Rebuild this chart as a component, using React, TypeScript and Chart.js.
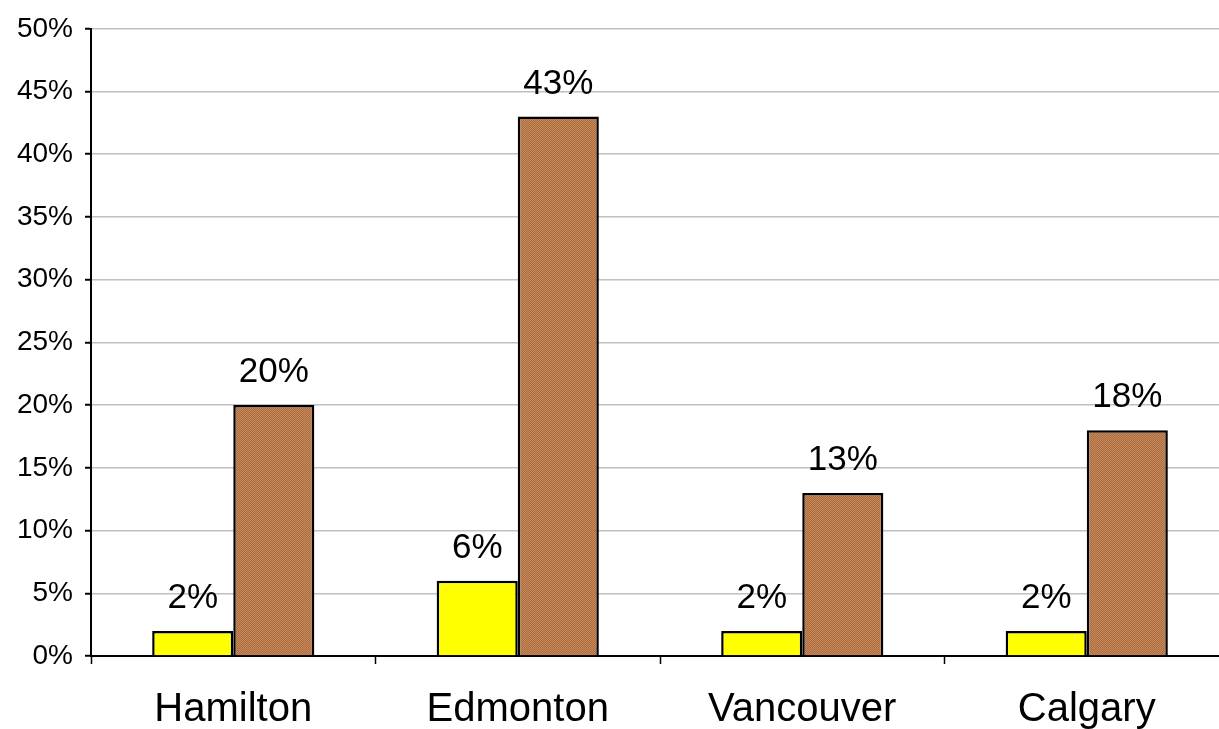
import React, { useEffect, useRef } from "react";
import { Chart, registerables } from "chart.js";

Chart.register(...registerables);

const categories = ["Hamilton", "Edmonton", "Vancouver", "Calgary"];
const seriesYellow = [2, 6, 2, 2];
const seriesBrown = [20, 43, 13, 18];
const yTickMax = 50;
const yTickStep = 5;

const FONT = "'Liberation Sans', Arial, sans-serif";

function makePattern(): CanvasPattern | string {
  const c = document.createElement("canvas");
  c.width = 4;
  c.height = 4;
  const ctx = c.getContext("2d");
  if (!ctx) return "#C07A40";
  ctx.fillStyle = "#CE8A44";
  ctx.fillRect(0, 0, 4, 4);
  ctx.fillStyle = "#A46C54";
  for (let i = 0; i < 4; i++) {
    ctx.fillRect(i, 3 - i, 1, 1);
    ctx.fillRect((i + 2) % 4, 3 - i, 1, 1);
  }
  const p = ctx.createPattern(c, "repeat");
  return p || "#C07A40";
}

const valueLabels = {
  id: "valueLabels",
  afterDatasetsDraw(chart: any) {
    const ctx = chart.ctx;
    ctx.save();
    ctx.font = `35px ${FONT}`;
    ctx.fillStyle = "#000";
    ctx.textAlign = "center";
    ctx.textBaseline = "alphabetic";
    chart.data.datasets.forEach((ds: any, di: number) => {
      const meta = chart.getDatasetMeta(di);
      meta.data.forEach((el: any, i: number) => {
        ctx.fillText(`${ds.data[i]}%`, el.x, el.y - 23);
      });
    });
    ctx.restore();
  },
};

export default function App() {
  const ref = useRef<HTMLCanvasElement>(null);
  useEffect(() => {
    if (!ref.current) return;
    const chart = new Chart(ref.current, {
      type: "bar",
      data: {
        labels: categories,
        datasets: [
          {
            data: seriesYellow,
            backgroundColor: "#FFFF00",
            borderColor: "#000",
            borderWidth: 2.5,
            categoryPercentage: 0.57,
            barPercentage: 1,
          },
          {
            data: seriesBrown,
            backgroundColor: makePattern() as any,
            borderColor: "#000",
            borderWidth: 2.5,
            categoryPercentage: 0.57,
            barPercentage: 1,
          },
        ],
      },
      options: {
        responsive: false,
        animation: false,
        layout: { padding: { top: 26, right: 11, left: 0, bottom: 0 } },
        plugins: { legend: { display: false }, tooltip: { enabled: false } },
        scales: {
          x: {
            grid: {
              drawOnChartArea: false,
              tickLength: 8,
              tickColor: "#000",
              tickWidth: 1.5,
              offset: true,
            },
            border: { color: "#000", width: 2 },
            ticks: {
              font: { family: FONT, size: 40 },
              color: "#000",
              padding: 22,
              maxRotation: 0,
            },
            afterFit(scale: any) {
              scale.height = 73;
            },
          },
          y: {
            min: 0,
            max: yTickMax,
            grid: {
              color: "#C0C0C0",
              lineWidth: 1.5,
              tickLength: 6,
              tickColor: "#000",
              tickWidth: 2,
            },
            border: { color: "#000", width: 2 },
            ticks: {
              stepSize: yTickStep,
              font: { family: FONT, size: 28 },
              color: "#000",
              padding: 12,
              callback: (v: any) => `${v}%`,
            },
            afterFit(scale: any) {
              scale.width = 91;
            },
          },
        },
      },
      plugins: [valueLabels],
    });
    return () => chart.destroy();
  }, []);
  return (
    <div
      style={{
        position: "fixed",
        left: 0,
        top: 0,
        width: 1219,
        height: 729,
        overflow: "hidden",
        background: "#fff",
      }}
    >
      <canvas ref={ref} width={1240} height={729} style={{ display: "block" }} />
    </div>
  );
}
